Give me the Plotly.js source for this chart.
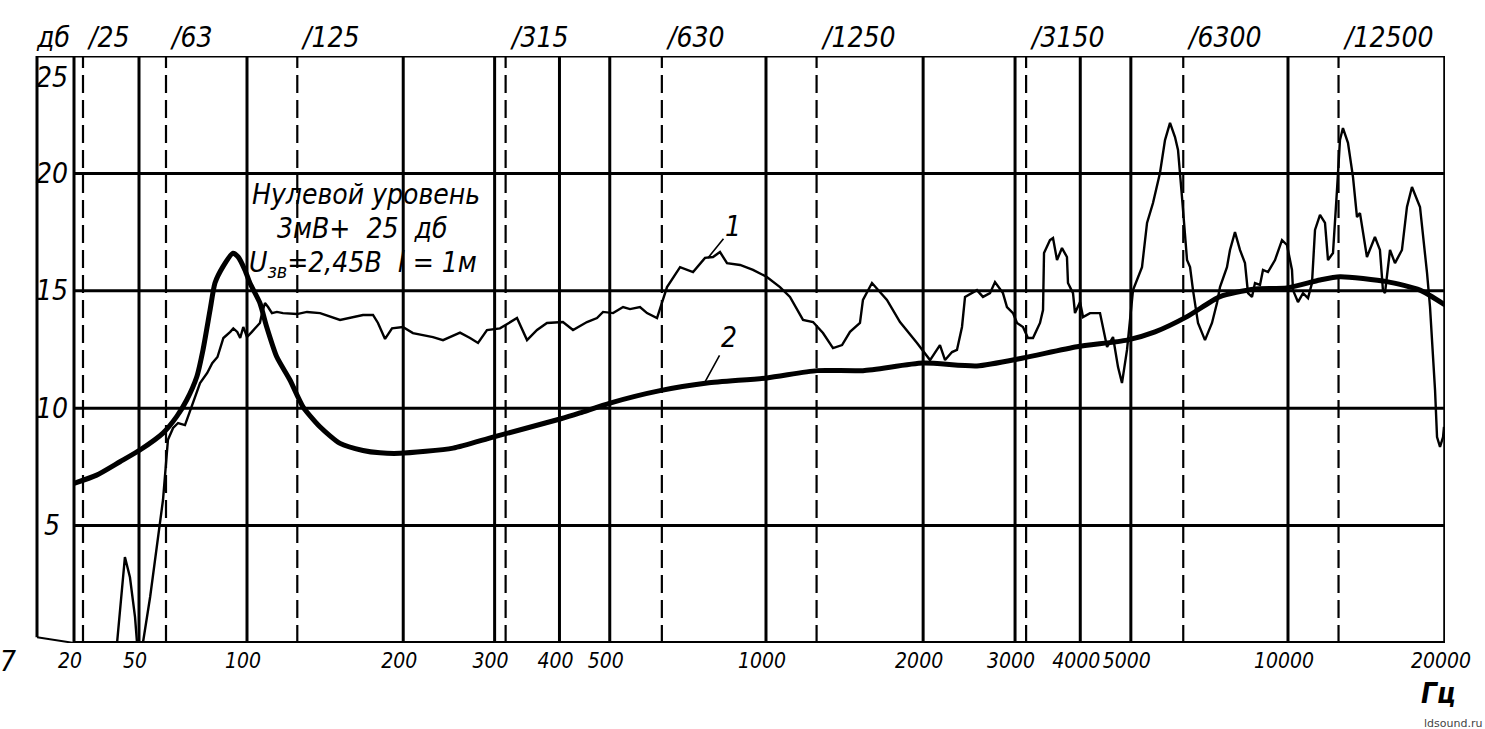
<!DOCTYPE html>
<html>
<head>
<meta charset="utf-8">
<script src="https://cdn.plot.ly/plotly-3.0.1.min.js"></script>
<style>
html,body{margin:0;padding:0;background:#fff;}
#chart{width:1485px;height:729px;}
</style>
</head>
<body>
<div id="chart"></div>
<script>
// ---- frequency scale of the original (hand-drawn) chart paper: compressed below 100 Hz ----
const SCALE_HZ  = [20, 25, 50, 63, 100, 1000, 10000, 20000];
const SCALE_POS = [0, 9, 65, 92, 173, 692, 1214, 1371];

// ---- grid & labels ----
const GRID_SOLID_HZ  = [20, 50, 100, 200, 300, 400, 500, 1000, 2000, 3000, 4000, 5000, 10000];
const GRID_DASHED_HZ = [25, 63, 125, 315, 630, 1250, 3150, 6300, 12500];
const GRID_DB        = [5, 10, 15, 20];
const BOTTOM_TICK_HZ   = [20, 50, 100, 200, 300, 400, 500, 1000, 2000, 3000, 4000, 5000, 10000, 20000];
const BOTTOM_TICK_TEXT = ["20", "50", "100", "200", "300", "400", "500", "1000", "2000", "3000", "4000", "5000", "10000", "20000"];
const TOP_LABEL_HZ   = [25, 63, 125, 315, 630, 1250, 3150, 6300, 12500];
const Y_TICK_DB      = [5, 10, 15, 20, 25];

// ---- curve 1 (thin, measured response) ----
const CURVE1_HZ = [38.1, 42.0, 44.7, 47.6, 48.8, 51.7, 55.0, 61.4, 63.7, 65.6, 67.5, 70.2, 71.4, 73.5, 76.5, 79.7, 82.0, 84.5, 85.9, 87.4,
  90.9, 92.5, 94.6, 96.2, 97.9, 100, 102.2, 104.5, 105.9, 106.9, 108.3, 109.8, 111.7, 114.2, 117.3, 124.8, 130.5, 138.3, 151.1, 167.3,
  174.9, 178.8, 184.5, 190.3, 199.7, 208.8, 228.2, 238.6, 257.3, 269, 278.7, 290, 307.2, 331.3, 346.4, 362.1, 378.4, 406.2, 424.8, 451.9,
  472.5, 485.3, 507.4, 530.4, 547, 571.8, 589.9, 616.6, 630.4, 644.6, 683, 723.5, 762.9, 790.5, 815.4, 841.2, 891.4, 944.1, 1004, 1063.7,
  1111.6, 1177.4, 1230.6, 1286, 1344, 1398.6, 1448.5, 1513.7, 1533.7, 1596, 1705, 1806, 1947, 2062, 2154, 2203, 2272, 2322, 2374, 2406,
  2536, 2604, 2686, 2746, 2844, 2895, 2973, 3026, 3107, 3176, 3247, 3349, 3394, 3409, 3500, 3547, 3610, 3690, 3772, 3789,
  3874, 3908, 3996, 4049, 4176, 4364, 4502, 4622, 4725, 4808, 4916, 5048, 5252, 5370, 5513, 5685, 5813, 5943, 6075, 6156,
  6265, 6349, 6406, 6492, 6577, 6724, 6934, 7152, 7311, 7408, 7640, 7743, 7915, 8091, 8272, 8383, 8531, 8645, 8839, 8956,
  9156, 9443, 9739, 9956, 10178, 10223, 10451, 10685, 10924, 11118, 11267, 11518, 11775, 11932, 12198, 12415, 12579, 12746, 13032, 13323,
  13561, 13741, 14171, 14679, 15007, 15207, 15346, 15689, 16037, 16539, 16909, 17287, 17911, 18475, 18721, 19140, 19310, 19567, 19829, 19914];
const CURVE1_DB = [0, 3.66, 2.8, 1.1, 0, 0, 1.96, 6.09, 8.65, 9.16, 9.37, 9.28, 9.63, 10.22, 11.07, 11.5, 11.92, 12.18, 12.61, 12.99,
  13.25, 13.4, 13.25, 12.99, 13.46, 13.03, 13.25, 13.46, 13.63, 14.05, 14.48, 14.31, 14.05, 14.1, 14.05, 14.01, 14.1, 14.05, 13.76, 13.97,
  13.97, 13.63, 12.95, 13.4, 13.46, 13.2, 13.03, 12.9, 13.22, 12.99, 12.78, 13.33, 13.4, 13.84, 12.9, 13.33, 13.63, 13.67, 13.33, 13.67,
  13.84, 14.1, 14.05, 14.31, 14.22, 14.31, 14.05, 13.84, 14.48, 15.16, 16.01, 15.8, 16.4, 16.44, 16.65, 16.18, 16.1, 15.89, 15.59, 15.16,
  14.74, 13.76, 13.67, 13.2, 12.56, 12.69, 13.25, 13.63, 14.61, 15.33, 14.61, 13.67, 12.78, 12.05, 12.69, 12.05, 12.39, 12.48, 13.46, 14.74,
  15.03, 14.74, 14.9, 15.37, 14.9, 14.31, 14.05, 13.63, 13.46, 12.99, 12.99, 13.63, 14.18, 16.61, 17.16, 17.25, 16.31, 16.82, 16.44, 15.33,
  14.9, 14.05, 14.52, 13.88, 14.05, 14.05, 12.61, 13.03, 11.75, 11.07, 12.48, 15.03, 16.01, 17.89, 18.74, 20.02, 21.42, 22.15, 21.55, 21.0,
  19.0, 17.59, 16.31, 16.01, 15.03, 13.63, 12.9, 13.63, 14.48, 15.16, 16.01, 16.74, 17.5, 16.74, 16.18, 14.9, 14.74, 15.33, 15.25, 15.89,
  15.8, 16.31, 17.16, 16.95, 15.89, 15.03, 14.52, 14.9, 14.69, 15.33, 17.59, 18.23, 17.89, 16.31, 16.61, 19.29, 21.42, 21.93, 21.3, 19.85,
  18.14, 18.31, 16.44, 17.29, 16.74, 15.03, 14.9, 16.74, 16.18, 16.74, 18.57, 19.42, 18.57, 15.76, 14.31, 10.78, 8.77, 8.35, 8.77, 9.2];

// ---- curve 2 (thick, smooth response) ----
const CURVE2_HZ = [20, 29.6, 39.5, 50.4, 61.4, 67, 70.9, 75.1, 77.8, 81, 83.3, 87.2, 92.3, 95, 98.8, 101.3, 105.9, 109.1, 114.1, 121,
  128.2, 138.2, 151.1, 167.3, 180.4, 197, 249.5, 297.8, 401, 438, 500.6, 625, 770, 1004, 1252, 1534, 1999, 2536, 3107, 3942,
  4916, 5562, 6406, 7408, 8570, 9956, 11517, 12578, 15480, 17910, 20000];
const CURVE2_DB = [6.8, 7.15, 7.72, 8.22, 8.94, 9.65, 10.35, 11.34, 12.48, 14.18, 15.33, 16.03, 16.6, 16.45, 15.89, 15.33, 14.48, 13.47, 12.19, 11.2,
  10.06, 9.21, 8.5, 8.2, 8.1, 8.08, 8.3, 8.77, 9.54, 9.8, 10.22, 10.75, 11.07, 11.29, 11.6, 11.6, 11.92, 11.8, 12.14, 12.62,
  12.9, 13.25, 13.9, 14.75, 15.07, 15.12, 15.46, 15.6, 15.39, 15.03, 14.4];

// ---- text ----
const NOTE_LINES = ["Нулевой уровень", "3мВ+\u00A0\u00A025\u00A0\u00A0дб", "U<sub>зв</sub>=2,45В\u00A0\u00A0l\u00A0=\u00A01м"];
const CURVE_LABELS = ["1", "2"];

function pos(f) {
  const l = Math.log10(f);
  const n = SCALE_HZ.length;
  for (let i = 0; i < n - 1; i++) {
    const a = Math.log10(SCALE_HZ[i]), b = Math.log10(SCALE_HZ[i + 1]);
    if (l <= b || i === n - 2) {
      return SCALE_POS[i] + (l - a) / (b - a) * (SCALE_POS[i + 1] - SCALE_POS[i]);
    }
  }
}

const FAM = "'Liberation Sans Narrow', 'DejaVu Sans Condensed', 'Liberation Sans', sans-serif";
const tf = (size, extra) => Object.assign({family: FAM, size: size, color: '#000', style: 'italic'}, extra || {});

const X_MIN = -37;
const X20 = pos(20), X20K = pos(20000);

const shapes = [];
GRID_SOLID_HZ.forEach(f => shapes.push({type: 'line', xref: 'x', yref: 'y', x0: pos(f), x1: pos(f), y0: 0, y1: 25,
  line: {color: '#000', width: 3}, layer: 'below'}));
GRID_DASHED_HZ.forEach(f => shapes.push({type: 'line', xref: 'x', yref: 'y', x0: pos(f), x1: pos(f), y0: 0, y1: 25,
  line: {color: '#000', width: 2.2, dash: '18px,7px'}, layer: 'below'}));
GRID_DB.forEach(v => shapes.push({type: 'line', xref: 'x', yref: 'y', x0: X20, x1: X20K, y0: v, y1: v,
  line: {color: '#000', width: 3}, layer: 'below'}));
// frame
shapes.push({type: 'line', xref: 'paper', yref: 'y', x0: 0, x1: 1, y0: 25, y1: 25, line: {color: '#000', width: 3}});
shapes.push({type: 'line', xref: 'paper', yref: 'y', x0: 0, x1: 0, y0: 0.25, y1: 25, line: {color: '#000', width: 3}});
shapes.push({type: 'line', xref: 'x', yref: 'y', x0: X20K, x1: X20K, y0: 0, y1: 25, line: {color: '#000', width: 3.5}});
shapes.push({type: 'line', xref: 'x', yref: 'y', x0: X20, x1: X20K, y0: 0, y1: 0, line: {color: '#000', width: 4}});
shapes.push({type: 'line', xref: 'x', yref: 'y', x0: X_MIN, x1: X20, y0: 0.25, y1: 0, line: {color: '#000', width: 2}});

const annotations = [];
TOP_LABEL_HZ.forEach(f => annotations.push({x: pos(f), y: 1, xref: 'x', yref: 'paper', xanchor: 'left', yanchor: 'bottom',
  xshift: 2, yshift: 0, text: '/' + f, showarrow: false, font: tf(28)}));
annotations.push({x: 0, y: 1, xref: 'paper', yref: 'paper', xanchor: 'left', yanchor: 'bottom', xshift: -3, yshift: 0,
  text: 'дб', showarrow: false, font: tf(28)});
Y_TICK_DB.forEach(v => annotations.push({x: 0, y: v, xref: 'paper', yref: 'y', xanchor: 'center',
  yanchor: v === 25 ? 'top' : 'middle', xshift: 15, yshift: v === 25 ? -3 : 0, text: String(v), showarrow: false, font: tf(28)}));
// note block
annotations.push({x: pos(20) + 176, y: 19.12, xref: 'x', yref: 'y', xanchor: 'left', yanchor: 'middle', text: NOTE_LINES[0], showarrow: false, font: tf(28)});
annotations.push({x: pos(20) + 201, y: 17.67, xref: 'x', yref: 'y', xanchor: 'left', yanchor: 'middle', text: NOTE_LINES[1], showarrow: false, font: tf(28)});
annotations.push({x: pos(20) + 173, y: 16.14, xref: 'x', yref: 'y', xanchor: 'left', yanchor: 'middle', text: NOTE_LINES[2], showarrow: false, font: tf(28)});
// curve labels with leader lines
annotations.push({x: pos(773), y: 16.4, xref: 'x', yref: 'y', text: CURVE_LABELS[0], showarrow: true, arrowhead: 0,
  arrowwidth: 1.6, arrowcolor: '#000', ax: 25, ay: -31, standoff: 0, font: tf(28)});
annotations.push({x: pos(763), y: 11.12, xref: 'x', yref: 'y', text: CURVE_LABELS[1], showarrow: true, arrowhead: 0,
  arrowwidth: 1.6, arrowcolor: '#000', ax: 24, ay: -44, standoff: 0, font: tf(28)});
// unit & misc
annotations.push({x: X20K, y: 0, xref: 'x', yref: 'y', xanchor: 'center', yanchor: 'top', xshift: -6, yshift: -32,
  text: 'Гц', showarrow: false, font: tf(28, {weight: 'bold'})});
annotations.push({x: 1, y: 0, xref: 'paper', yref: 'y', xanchor: 'center', yanchor: 'top', xshift: 8, yshift: -72,
  text: 'ldsound.ru', showarrow: false, font: {family: 'DejaVu Sans, sans-serif', size: 11, color: '#444'}});
annotations.push({x: 0, y: 0, xref: 'paper', yref: 'y', xanchor: 'center', yanchor: 'top', xshift: -29, yshift: 0,
  text: '7', showarrow: false, font: tf(28)});

const traces = [
  {x: CURVE1_HZ.map(pos), y: CURVE1_DB, type: 'scatter', mode: 'lines', line: {color: '#000', width: 2.4}, hoverinfo: 'skip'},
  {x: CURVE2_HZ.map(pos), y: CURVE2_DB, type: 'scatter', mode: 'lines', line: {color: '#000', width: 5, shape: 'spline', smoothing: 0.6}, hoverinfo: 'skip'}
];

const layout = {
  width: 1485, height: 729,
  margin: {l: 37, r: 40, t: 56, b: 86, pad: 0},
  paper_bgcolor: '#fff', plot_bgcolor: '#fff',
  showlegend: false, hovermode: false,
  xaxis: {range: [X_MIN, X20K + 0.01], showgrid: false, zeroline: false, showline: false, ticks: '',
    tickmode: 'array', tickvals: BOTTOM_TICK_HZ.map(pos), ticktext: BOTTOM_TICK_TEXT, tickangle: 0,
    tickfont: tf(21), ticklabelshift: -4, ticklabelstandoff: 3, ticklabeloverflow: 'allow', fixedrange: true},
  yaxis: {range: [0, 25], showgrid: false, zeroline: false, showline: false, showticklabels: false, ticks: '', fixedrange: true},
  shapes: shapes,
  annotations: annotations
};

Plotly.newPlot('chart', traces, layout, {staticPlot: true, displayModeBar: false});
</script>
</body>
</html>
